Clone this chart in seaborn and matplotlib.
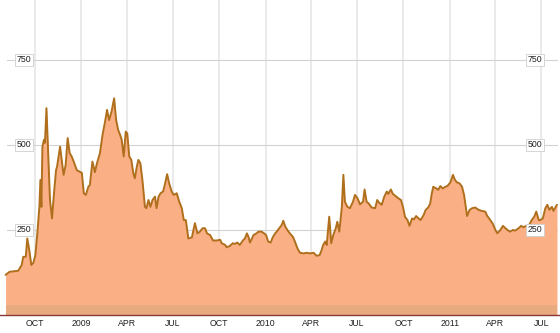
import matplotlib
matplotlib.use('Agg')
import matplotlib.pyplot as plt
import matplotlib.transforms as mtransforms
import seaborn as sns
import pandas as pd

dates = [
    '2008-08-04', '2008-08-12', '2008-08-29', '2008-09-05', '2008-09-08', '2008-09-13',
    '2008-09-16', '2008-09-20', '2008-09-24', '2008-09-28', '2008-10-02', '2008-10-06',
    '2008-10-10', '2008-10-12', '2008-10-14', '2008-10-16', '2008-10-19', '2008-10-21',
    '2008-10-24', '2008-10-27', '2008-10-31', '2008-11-04', '2008-11-08', '2008-11-12',
    '2008-11-14', '2008-11-20', '2008-11-24', '2008-11-27', '2008-12-01', '2008-12-05',
    '2008-12-09', '2008-12-13', '2008-12-17', '2008-12-23', '2009-01-02', '2009-01-06',
    '2009-01-10', '2009-01-15', '2009-01-18', '2009-01-23', '2009-01-28', '2009-02-01',
    '2009-02-07', '2009-02-12', '2009-02-17', '2009-02-21', '2009-02-25', '2009-03-02',
    '2009-03-07', '2009-03-11', '2009-03-15', '2009-03-19', '2009-03-22', '2009-03-26',
    '2009-03-30', '2009-04-02', '2009-04-06', '2009-04-10', '2009-04-14', '2009-04-17',
    '2009-04-21', '2009-04-24', '2009-04-28', '2009-05-02', '2009-05-07', '2009-05-10',
    '2009-05-14', '2009-05-18', '2009-05-22', '2009-05-27', '2009-05-30', '2009-06-03',
    '2009-06-07', '2009-06-12', '2009-06-16', '2009-06-20', '2009-06-24', '2009-06-29',
    '2009-07-03', '2009-07-09', '2009-07-14', '2009-07-19', '2009-07-23', '2009-07-27',
    '2009-08-01', '2009-08-08', '2009-08-14', '2009-08-19', '2009-08-24', '2009-08-29',
    '2009-09-03', '2009-09-07', '2009-09-13', '2009-09-19', '2009-09-26', '2009-10-03',
    '2009-10-06', '2009-10-13', '2009-10-16', '2009-10-22', '2009-10-28', '2009-11-01',
    '2009-11-06', '2009-11-11', '2009-11-17', '2009-11-21', '2009-11-25', '2009-11-28',
    '2009-12-01', '2009-12-05', '2009-12-08', '2009-12-14', '2009-12-18', '2009-12-24',
    '2009-12-29', '2010-01-02', '2010-01-06', '2010-01-11', '2010-01-15', '2010-01-20',
    '2010-01-23', '2010-01-28', '2010-02-02', '2010-02-05', '2010-02-09', '2010-02-13',
    '2010-02-18', '2010-02-24', '2010-02-28', '2010-03-05', '2010-03-10', '2010-03-17',
    '2010-03-24', '2010-03-30', '2010-04-06', '2010-04-12', '2010-04-18', '2010-04-22',
    '2010-04-25', '2010-04-29', '2010-05-02', '2010-05-07', '2010-05-11', '2010-05-15',
    '2010-05-20', '2010-05-23', '2010-05-27', '2010-05-30', '2010-06-01', '2010-06-04',
    '2010-06-07', '2010-06-12', '2010-06-17', '2010-06-23', '2010-06-27', '2010-07-02',
    '2010-07-07', '2010-07-13', '2010-07-16', '2010-07-20', '2010-07-24', '2010-07-30',
    '2010-08-06', '2010-08-10', '2010-08-14', '2010-08-19', '2010-08-24', '2010-08-29',
    '2010-09-01', '2010-09-06', '2010-09-10', '2010-09-15', '2010-09-21', '2010-09-26',
    '2010-09-30', '2010-10-04', '2010-10-09', '2010-10-13', '2010-10-18', '2010-10-22',
    '2010-10-26', '2010-10-31', '2010-11-04', '2010-11-10', '2010-11-14', '2010-11-19',
    '2010-11-23', '2010-11-26', '2010-11-29', '2010-12-05', '2010-12-09', '2010-12-13',
    '2010-12-18', '2010-12-23', '2010-12-27', '2011-01-02', '2011-01-07', '2011-01-11',
    '2011-01-15', '2011-01-20', '2011-01-25', '2011-01-29', '2011-02-04', '2011-02-09',
    '2011-02-14', '2011-02-20', '2011-02-27', '2011-03-05', '2011-03-12', '2011-03-16',
    '2011-03-22', '2011-03-27', '2011-04-01', '2011-04-05', '2011-04-11', '2011-04-16',
    '2011-04-21', '2011-04-25', '2011-04-30', '2011-05-06', '2011-05-10', '2011-05-17',
    '2011-05-22', '2011-05-27', '2011-06-01', '2011-06-07', '2011-06-12', '2011-06-17',
    '2011-06-21', '2011-06-26', '2011-06-29', '2011-07-04', '2011-07-09', '2011-07-13',
    '2011-07-17', '2011-07-22', '2011-07-25', '2011-08-01',
]

values = [
    118, 127, 130, 147, 171, 171,
    225, 191, 147, 153, 176, 241,
    318, 397, 318, 495, 515, 506,
    608, 495, 338, 284, 359, 426,
    436, 495, 446, 412, 441, 520,
    476, 466, 451, 426, 418, 358,
    353, 377, 382, 451, 420, 446,
    476, 529, 568, 603, 573, 598,
    637, 573, 544, 529, 515, 466,
    539, 534, 466, 456, 417, 402,
    436, 456, 446, 397, 318, 314,
    338, 318, 338, 348, 314, 348,
    358, 363, 387, 414, 387, 363,
    353, 358, 333, 314, 279, 279,
    225, 228, 270, 240, 245, 255,
    255, 240, 235, 219, 219, 221,
    211, 206, 199, 203, 211, 209,
    213, 206, 219, 225, 240, 230,
    213, 225, 235, 240, 245, 245,
    240, 235, 216, 213, 228, 240,
    245, 255, 265, 277, 260, 250,
    240, 230, 216, 196, 183, 181,
    183, 181, 183, 174, 176, 191,
    206, 216, 206, 289, 211, 235,
    255, 274, 245, 289, 318, 412,
    333, 318, 314, 333, 353, 343,
    325, 333, 369, 333, 328, 316,
    314, 338, 330, 324, 348, 363,
    356, 369, 356, 350, 343, 338,
    318, 289, 279, 262, 284, 281,
    291, 284, 279, 294, 309, 316,
    328, 356, 377, 372, 368, 379,
    372, 377, 379, 390, 412, 397,
    390, 387, 377, 353, 291, 309,
    314, 316, 309, 306, 304, 291,
    279, 268, 250, 240, 250, 262,
    255, 250, 245, 250, 248, 255,
    262, 258, 262, 265, 279, 289,
    304, 279, 279, 284, 314, 324,
    309, 318, 306, 324,
]

tick_dates = ['2008-10-01', '2009-01-01', '2009-04-01', '2009-07-01',
              '2009-10-01', '2010-01-01', '2010-04-01', '2010-07-01',
              '2010-10-01', '2011-01-01', '2011-04-01', '2011-07-01']
tick_labels = ['OCT', '2009', 'APR', 'JUL', 'OCT', '2010', 'APR', 'JUL',
               'OCT', '2011', 'APR', 'JUL']
y_ticks = [250, 500, 750]

sns.set_style('white')
plt.rcParams['font.family'] = ['Liberation Sans', 'DejaVu Sans']

df = pd.DataFrame({'date': pd.to_datetime(dates), 'value': values})

fig = plt.figure(figsize=(5.6, 3.33), dpi=100)
ax = fig.add_axes([0, 18 / 333, 1, 315 / 333])

ax.fill_between(df['date'], 0, df['value'], color='#fbaf85', lw=0, zorder=2)
ax.fill_between(df['date'], 0, 30, color='#e8ab80', lw=0, zorder=2)
sns.lineplot(data=df, x='date', y='value', color='#b06f1c', lw=1.4, ax=ax, zorder=3)

ax.set_xlim(pd.Timestamp('2008-07-24'), pd.Timestamp('2011-08-07'))
ax.set_ylim(0, 926)
ax.set_xlabel('')
ax.set_ylabel('')

ax.set_xticks(pd.to_datetime(tick_dates))
ax.set_xticklabels(tick_labels, fontsize=6.3, color='#222222')
ax.tick_params(axis='x', length=0, pad=3)
ax.set_yticks([])
ax.grid(axis='x', color='#e4e4e4', lw=1.1, zorder=0)
ax.set_axisbelow(True)
for v in y_ticks:
    ax.axhline(v, xmin=7 / 560, xmax=557 / 560, color='#d2d2d2', lw=0.8, zorder=1)

for side in ['top', 'left', 'right']:
    ax.spines[side].set_visible(False)
ax.spines['bottom'].set_color('#8b3535')
ax.spines['bottom'].set_linewidth(1.0)
ax.spines['bottom'].set_zorder(5)

trans = mtransforms.blended_transform_factory(ax.transAxes, ax.transData)
box = dict(boxstyle='square,pad=0.2', fc='white', ec='#cfcfcf', lw=0.6)
for v in y_ticks:
    ax.text(24 / 560, v, str(v), transform=trans, ha='center', va='center',
            fontsize=6.3, color='#222222', bbox=box, zorder=6)
    ax.text(535 / 560, v, str(v), transform=trans, ha='center', va='center',
            fontsize=6.3, color='#222222', bbox=box, zorder=6)

fig.savefig('out.png', dpi=100)
